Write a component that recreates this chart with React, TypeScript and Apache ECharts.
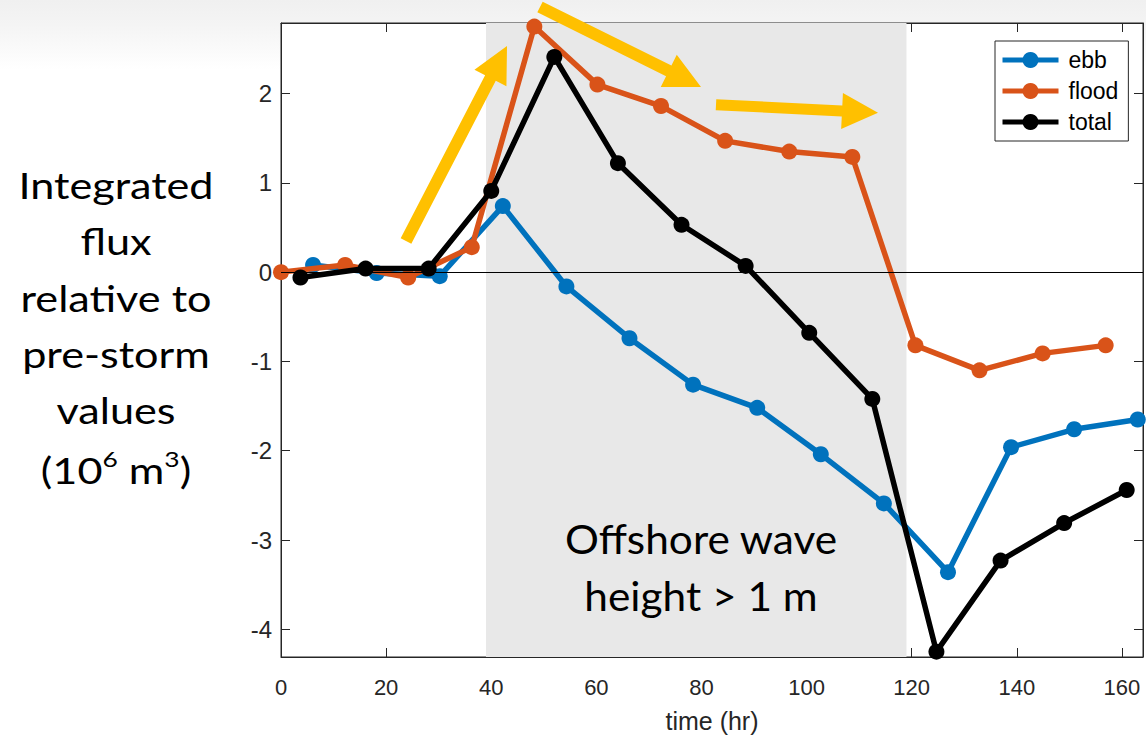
import { useEffect, useRef } from "react";
import * as echarts from "echarts";

// ---- data ----
const xTicks = [0, 20, 40, 60, 80, 100, 120, 140, 160];
const yTicks = [-4, -3, -2, -1, 0, 1, 2];

const ebbTime = [6.1, 18.2, 30.2, 42.2, 54.3, 66.3, 78.4, 90.6, 102.7, 114.7, 126.9, 138.9, 150.9, 163.0];
const ebbFlux = [0.08, -0.01, -0.045, 0.74, -0.16, -0.74, -1.26, -1.52, -2.04, -2.59, -3.36, -1.96, -1.76, -1.65];

const floodTime = [0, 12.2, 24.2, 36.3, 48.2, 60.2, 72.3, 84.5, 96.7, 108.7, 120.7, 132.9, 144.9, 156.9];
const floodFlux = [0, 0.08, -0.06, 0.28, 2.75, 2.1, 1.86, 1.47, 1.35, 1.29, -0.82, -1.1, -0.91, -0.82];

const totalTime = [3.7, 16.1, 28.1, 40.0, 52.0, 64.1, 76.2, 88.4, 100.5, 112.5, 124.7, 136.9, 149.0, 160.9];
const totalFlux = [-0.06, 0.04, 0.04, 0.91, 2.41, 1.22, 0.53, 0.07, -0.68, -1.42, -4.25, -3.23, -2.81, -2.44];

const stormWindow = [39, 119];
const xRange = [0, 164];
const yRange = [-4.31, 2.79];

const seriesNames = ["ebb", "flood", "total"];
const yTitleLines = ["Integrated", "flux", "relative to", "pre-storm", "values"];
const shadeLabel = ["Offshore wave", "height > 1 m"];

const zip = (a: number[], b: number[]) => a.map((v, i) => [v, b[i]]);

function arrowPoints(x1: number, y1: number, x2: number, y2: number, shaft: number, headL: number, headW: number) {
  const dx = x2 - x1, dy = y2 - y1;
  const L = Math.hypot(dx, dy);
  const ux = dx / L, uy = dy / L;
  const px = -uy, py = ux;
  const bx = x2 - ux * headL, by = y2 - uy * headL;
  return [
    [x1 + (px * shaft) / 2, y1 + (py * shaft) / 2],
    [bx + (px * shaft) / 2, by + (py * shaft) / 2],
    [bx + (px * headW) / 2, by + (py * headW) / 2],
    [x2, y2],
    [bx - (px * headW) / 2, by - (py * headW) / 2],
    [bx - (px * shaft) / 2, by - (py * shaft) / 2],
    [x1 - (px * shaft) / 2, y1 - (py * shaft) / 2],
  ];
}

const TITLE_FONT = "Lato, 'Open Sans', sans-serif";
const AXIS_FONT = "'Liberation Sans', Arial, sans-serif";

export default function App() {
  const ref = useRef<HTMLDivElement>(null);
  useEffect(() => {
    if (!ref.current) return;
    const chart = echarts.init(ref.current, undefined, { renderer: "svg" });
    const axisColor = "#262626";
    const lineW = 5.5;
    const symSize = 16;
    const titleSize = 36;
    const titleScaleX = 1.2;
    const titleGraphics: any[] = yTitleLines.map((t, i) => ({
      type: "text",
      x: 116,
      y: 185 + 56.3 * i,
      scaleX: titleScaleX,
      style: {
        text: t,
        fontSize: titleSize,
        fontFamily: TITLE_FONT,
        fill: "#000",
        align: "center",
        verticalAlign: "middle",
      },
      z: 50,
    }));
    titleGraphics.push({
      type: "text",
      x: 116,
      y: 185 + 56.3 * 5,
      scaleX: titleScaleX,
      style: {
        text: "{a|(10}{b|6}{a| m}{b|3}{a|)}",
        fontFamily: TITLE_FONT,
        fill: "#000",
        align: "center",
        verticalAlign: "middle",
        rich: {
          a: { fontSize: titleSize, fontFamily: TITLE_FONT, lineHeight: 42, verticalAlign: "bottom" },
          b: { fontSize: 22, fontFamily: TITLE_FONT, lineHeight: 42, verticalAlign: "top", padding: [2, 0, 0, 0] },
        },
      },
      z: 50,
    });
    const shadeGraphics = shadeLabel.map((t, i) => ({
      type: "text",
      x: 701,
      y: 538 + 57 * i,
      scaleX: 1.06,
      style: {
        text: t,
        fontSize: 40,
        fontFamily: TITLE_FONT,
        fill: "#000",
        align: "center",
        verticalAlign: "middle",
      },
      z: 50,
    }));
    const arrowColor = "#FFC000";
    const arrows = [
      arrowPoints(406, 241, 507, 46, 12, 36, 36),
      arrowPoints(540, 7, 701, 87, 12, 36, 36),
      arrowPoints(716, 104.7, 878, 112.7, 11, 36, 36),
    ].map((pts) => ({
      type: "polygon",
      shape: { points: pts },
      style: { fill: arrowColor },
      z: 100,
    }));

    const mkSeries = (name: string, xs: number[], ys: number[], color: string, z: number) => ({
      name,
      type: "line",
      data: zip(xs, ys),
      symbol: "circle",
      symbolSize: symSize,
      showAllSymbol: true,
      lineStyle: { width: lineW, color },
      itemStyle: { color },
      z,
      silent: true,
    });

    chart.setOption({
      animation: false,
      backgroundColor: "transparent",
      graphic: [
        {
          type: "rect",
          shape: { x: 0, y: 0, width: 1146, height: 70 },
          style: {
            fill: new echarts.graphic.LinearGradient(0, 0, 0, 1, [
              { offset: 0, color: "#f0f0f0" },
              { offset: 0.35, color: "#f4f4f4" },
              { offset: 1, color: "#ffffff" },
            ]),
          },
          z: -100,
          silent: true,
        },
        ...titleGraphics,
        ...shadeGraphics,
        ...arrows,
      ],
      grid: {
        left: 281,
        right: 3,
        top: 23,
        bottom: 84,
        show: true,
        backgroundColor: "#ffffff",
        borderColor: axisColor,
        borderWidth: 1,
      },
      legend: {
        data: seriesNames,
        orient: "vertical",
        left: 995,
        top: 41,
        padding: [7, 10, 7, 5],
        itemWidth: 56,
        itemHeight: 20,
        itemGap: 7,
        backgroundColor: "#ffffff",
        borderColor: axisColor,
        borderWidth: 1,
        lineStyle: { width: 5 },
        textStyle: { fontSize: 23, lineHeight: 24, color: "#000", fontFamily: AXIS_FONT, padding: [0, 0, 0, 5] },
        z: 60,
      },
      xAxis: [
        {
          type: "value",
          min: xRange[0],
          max: xRange[1],
          position: "bottom",
          name: "time (hr)",
          nameLocation: "middle",
          nameGap: 51,
          nameTextStyle: { fontSize: 25, color: axisColor, fontFamily: AXIS_FONT },
          axisLine: { show: true, onZero: false, lineStyle: { color: axisColor, width: 1 } },
          axisTick: { show: true, inside: true, length: 9, customValues: xTicks, lineStyle: { color: axisColor } },
          axisLabel: { customValues: xTicks, fontSize: 22, color: axisColor, fontFamily: AXIS_FONT, margin: 19 },
          splitLine: { show: false },
        },
        {
          type: "value",
          min: xRange[0],
          max: xRange[1],
          position: "top",
          axisLine: { show: true, onZero: false, lineStyle: { color: axisColor, width: 1 } },
          axisTick: { show: true, inside: true, length: 9, customValues: xTicks, lineStyle: { color: axisColor } },
          axisLabel: { show: false },
          splitLine: { show: false },
        },
      ],
      yAxis: [
        {
          type: "value",
          min: yRange[0],
          max: yRange[1],
          position: "left",
          axisLine: { show: true, onZero: false, lineStyle: { color: axisColor, width: 1 } },
          axisTick: { show: true, inside: true, length: 9, customValues: yTicks, lineStyle: { color: axisColor } },
          axisLabel: { customValues: yTicks, fontSize: 24, color: axisColor, fontFamily: AXIS_FONT, margin: 9 },
          splitLine: { show: false },
        },
        {
          type: "value",
          min: yRange[0],
          max: yRange[1],
          position: "right",
          axisLine: { show: true, onZero: false, lineStyle: { color: axisColor, width: 1 } },
          axisTick: { show: true, inside: true, length: 9, customValues: yTicks, lineStyle: { color: axisColor } },
          axisLabel: { show: false },
          splitLine: { show: false },
        },
      ],
      series: [
        {
          name: "shade",
          type: "line",
          data: [],
          z: 1,
          silent: true,
          markArea: {
            silent: true,
            itemStyle: { color: "#e8e8e8" },
            data: [[{ xAxis: stormWindow[0] }, { xAxis: stormWindow[1] }]],
          },
          markLine: {
            silent: true,
            symbol: "none",
            label: { show: false },
            lineStyle: { color: "#000", width: 1, type: "solid" },
            data: [{ yAxis: 0 }],
          },
        },
        mkSeries(seriesNames[0], ebbTime, ebbFlux, "#0072BD", 3),
        mkSeries(seriesNames[1], floodTime, floodFlux, "#D95319", 4),
        mkSeries(seriesNames[2], totalTime, totalFlux, "#000000", 5),
      ],
    });
    return () => chart.dispose();
  }, []);
  return <div ref={ref} style={{ position: "fixed", left: 0, top: 0, width: 1146, height: 741, background: "#fff" }} />;
}
